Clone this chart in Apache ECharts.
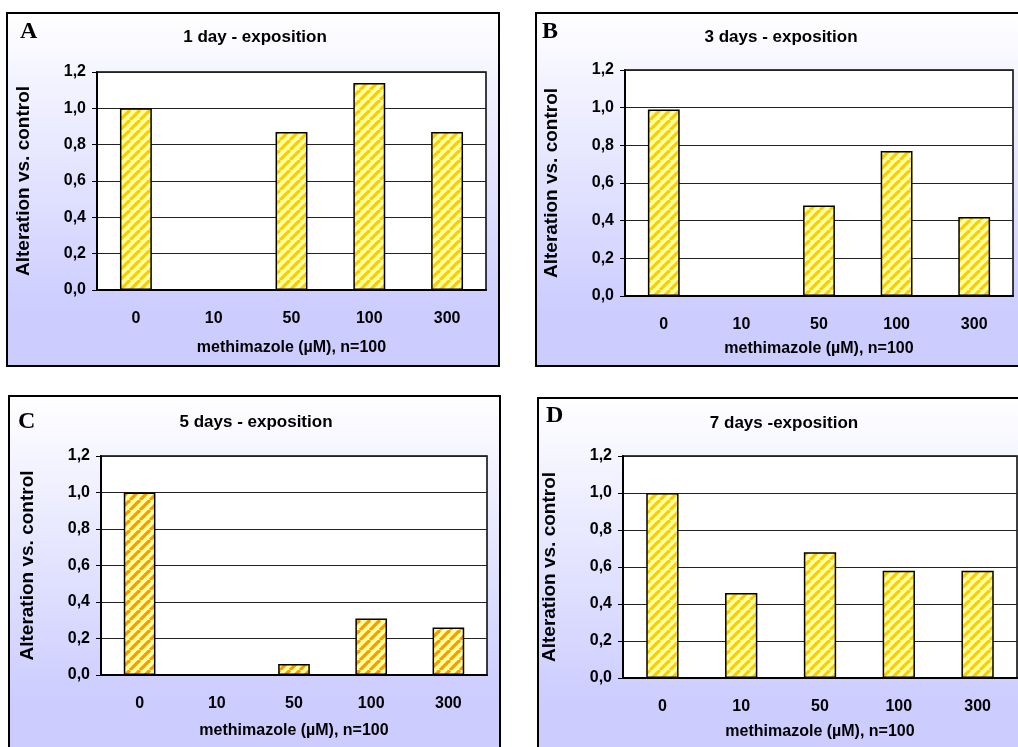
<!DOCTYPE html>
<html><head><meta charset="utf-8">
<script src="https://cdn.jsdelivr.net/npm/echarts@6/dist/echarts.min.js"></script>
<style>html,body{margin:0;padding:0;background:#fff}#c{width:1018px;height:747px}</style>
</head><body><div id="c"></div>
<script>
// ---- data ----
const categories = ['0', '10', '50', '100', '300'];
const day1 = [1.00, 0, 0.87, 1.14, 0.87];
const day3 = [0.99, 0, 0.48, 0.77, 0.42];
const day5 = [1.00, 0, 0.06, 0.31, 0.26];
const day7 = [1.00, 0.46, 0.68, 0.58, 0.58];
const panelTitles = ['1 day - exposition', '3 days - exposition', '5 days - exposition', '7 days -exposition'];
const panelLetters = ['A', 'B', 'C', 'D'];
const yAxisName = 'Alteration vs. control';
const xAxisName = 'methimazole (\u00b5M), n=100';

// ---- layout ----
const seriesData = [day1, day3, day5, day7];
const boxes = [
  {x: 7, y: 13, w: 492, h: 353},
  {x: 536, y: 13, w: 490, h: 353},
  {x: 9, y: 396, w: 491, h: 360},
  {x: 538, y: 398, w: 490, h: 360}
];
const grids = [
  {left: 97, top: 72, width: 389, height: 218},
  {left: 625, top: 70, width: 388, height: 226},
  {left: 101, top: 456, width: 386, height: 219},
  {left: 623, top: 456, width: 394, height: 222}
];
const xNameGaps = [50, 45, 48, 46];
const titlePos = [[255, 29], [781, 29], [256, 414], [784, 415]];
const letterPos = [[20, 20], [542, 20], [18, 410], [546, 404]];
const stripeColors = ['#ffcc00', '#ffcc00', '#ff9900', '#ffcc00'];

function stripes(bg, fg) {
  const n = 10, c = document.createElement('canvas');
  c.width = n; c.height = n;
  const g = c.getContext('2d');
  g.fillStyle = bg; g.fillRect(0, 0, n, n);
  g.strokeStyle = fg; g.lineWidth = 3.2;
  for (const o of [-n, 0, n]) { g.beginPath(); g.moveTo(o, n); g.lineTo(o + n, 0); g.stroke(); }
  return {image: c, repeat: 'repeat'};
}

const FONT = 'Liberation Sans, Arial, sans-serif';
const fmt = v => v.toFixed(1).replace('.', ',');

const option = {
  animation: false,
  backgroundColor: '#ffffff',
  graphic: boxes.map(b => ({
    type: 'rect', z: -10, silent: true,
    shape: {x: b.x, y: b.y, width: b.w, height: b.h},
    style: {
      fill: {type: 'linear', x: 0, y: 0, x2: 0, y2: 1,
        colorStops: [{offset: 0, color: '#ffffff'}, {offset: 0.85, color: '#ccccff'}, {offset: 1, color: '#ccccff'}]},
      stroke: '#000', lineWidth: 2
    }
  })),
  title: [
    ...panelTitles.map((t, i) => ({
      text: t, left: titlePos[i][0], top: titlePos[i][1], textAlign: 'center', padding: 0,
      textStyle: {fontFamily: FONT, fontWeight: 'bold', fontSize: 17, color: '#000'}
    })),
    ...panelLetters.map((t, i) => ({
      text: t, left: letterPos[i][0], top: letterPos[i][1], padding: 0,
      textStyle: {fontFamily: 'Liberation Serif, Times New Roman, serif', fontWeight: 'bold', fontSize: 24, color: '#000'}
    }))
  ],
  grid: grids.map(g => ({
    left: g.left, top: g.top, width: g.width, height: g.height,
    show: true, backgroundColor: '#ffffff', borderColor: '#000', borderWidth: 1.5
  })),
  xAxis: grids.map((g, i) => ({
    type: 'category', gridIndex: i, data: categories,
    axisLine: {show: true, lineStyle: {color: '#000', width: 2}},
    axisTick: {show: false},
    axisLabel: {fontFamily: FONT, fontWeight: 'bold', fontSize: 16, color: '#000', margin: 21},
    name: xAxisName, nameLocation: 'middle', nameGap: xNameGaps[i],
    nameTextStyle: {fontFamily: FONT, fontWeight: 'bold', fontSize: 16, color: '#000'}
  })),
  yAxis: grids.map((g, i) => ({
    type: 'value', gridIndex: i, min: 0, max: 1.2, interval: 0.2,
    axisLine: {show: true, lineStyle: {color: '#000', width: 2}},
    axisTick: {show: true, length: 5, lineStyle: {color: '#000'}},
    axisLabel: {fontFamily: FONT, fontWeight: 'bold', fontSize: 16, color: '#000', margin: 11, formatter: fmt},
    splitLine: {show: true, lineStyle: {color: '#222', width: 1}},
    name: yAxisName, nameLocation: 'middle', nameGap: 64,
    nameTextStyle: {fontFamily: FONT, fontWeight: 'bold', fontSize: 19, color: '#000'}
  })),
  series: seriesData.map((d, i) => ({
    type: 'bar', xAxisIndex: i, yAxisIndex: i, data: d, barWidth: '41%',
    itemStyle: {color: stripes('#ffff99', stripeColors[i]), borderColor: '#000', borderWidth: 1.5}
  }))
};

const chart = echarts.init(document.getElementById('c'), null, {renderer: 'canvas'});
chart.setOption(option);
</script>
</body></html>
